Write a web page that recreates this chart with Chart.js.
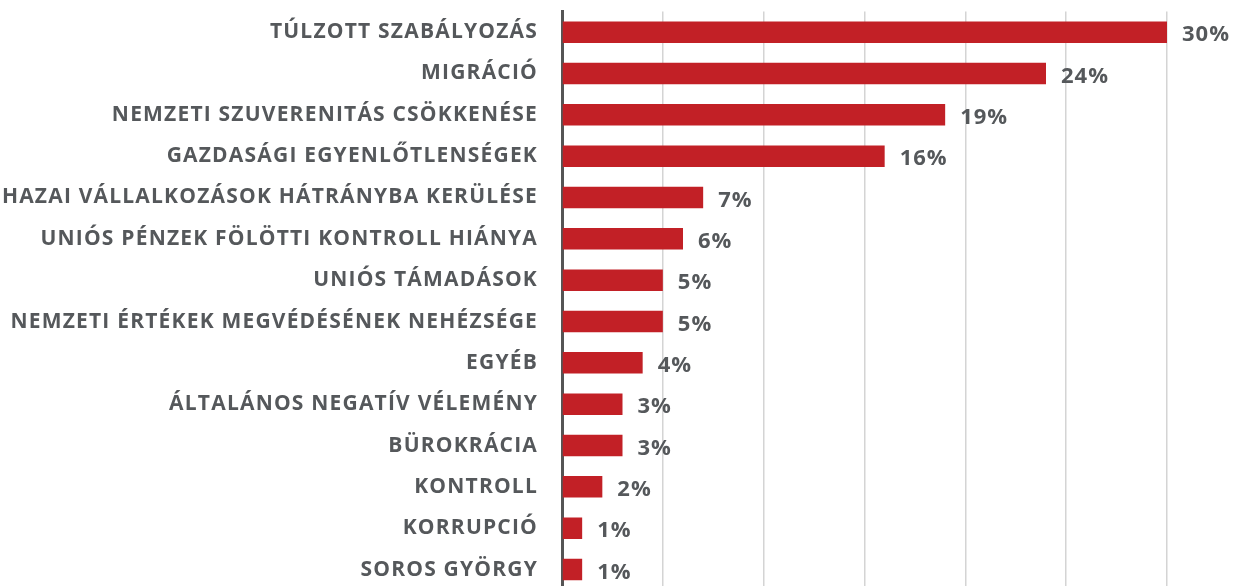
<!DOCTYPE html>
<html>
<head>
<meta charset="utf-8">
<script src="https://cdn.jsdelivr.net/npm/chart.js@4"></script>
<style>
  html, body { margin: 0; padding: 0; background: #fff; overflow: hidden; }
</style>
</head>
<body>
<canvas id="myChart" width="1256" height="600"></canvas>
<script>
const labels = [
    'TÚLZOTT SZABÁLYOZÁS',
    'MIGRÁCIÓ',
    'NEMZETI SZUVERENITÁS CSÖKKENÉSE',
    'GAZDASÁGI EGYENLŐTLENSÉGEK',
    'HAZAI VÁLLALKOZÁSOK HÁTRÁNYBA KERÜLÉSE',
    'UNIÓS PÉNZEK FÖLÖTTI KONTROLL HIÁNYA',
    'UNIÓS TÁMADÁSOK',
    'NEMZETI ÉRTÉKEK MEGVÉDÉSÉNEK NEHÉZSÉGE',
    'EGYÉB',
    'ÁLTALÁNOS NEGATÍV VÉLEMÉNY',
    'BÜROKRÁCIA',
    'KONTROLL',
    'KORRUPCIÓ',
    'SOROS GYÖRGY'
];
const values = [30, 24, 19, 16, 7, 6, 5, 5, 4, 3, 3, 2, 1, 1];

const textColor = '#55585b';
const fontFamily = '"Open Sans", Roboto, sans-serif';

// a little tracking so the labels come out as wide as in the original
const spacing = {
    id: 'spacing',
    beforeDraw(chart) { chart.ctx.letterSpacing = '1.2px'; },
    afterDraw(chart) { chart.ctx.letterSpacing = '0px'; }
};

const valueLabels = {
    id: 'valueLabels',
    afterDatasetsDraw(chart) {
        const ctx = chart.ctx;
        const meta = chart.getDatasetMeta(0);
        ctx.save();
        ctx.letterSpacing = '1px';
        ctx.font = 'bold 22px ' + fontFamily;
        ctx.fillStyle = textColor;
        ctx.textAlign = 'left';
        ctx.textBaseline = 'middle';
        meta.data.forEach((bar, i) => {
            ctx.fillText(values[i] + '%', bar.x + 15, bar.y + 3);
        });
        ctx.restore();
    }
};

const ctx = document.getElementById('myChart');

const config = {
    type: 'bar',
    data: {
        labels: labels,
        datasets: [{
            data: values,
            backgroundColor: '#c22026',
            barPercentage: 0.52,
            categoryPercentage: 1
        }]
    },
    options: {
        indexAxis: 'y',
        responsive: false,
        animation: false,
        layout: {
            padding: {top: 11.5, right: 89, bottom: 9.8, left: 0}
        },
        plugins: {
            legend: {display: false},
            tooltip: {enabled: false}
        },
        scales: {
            x: {
                min: 0,
                max: 30,
                ticks: {display: false, stepSize: 5},
                grid: {color: '#d4d4d4', lineWidth: 1.5, drawTicks: false},
                border: {display: false},
                afterFit(scale) {
                    scale.height = 0;
                    scale.paddingLeft = 0;
                    scale.paddingRight = 0;
                }
            },
            y: {
                grid: {display: false, drawTicks: false},
                border: {color: '#555', width: 3},
                ticks: {
                    color: textColor,
                    padding: 24,
                    font: {family: fontFamily, size: 21, weight: 'bold'}
                },
                afterFit(scale) {
                    scale.width = 562;
                    scale.paddingTop = 0;
                    scale.paddingBottom = 0;
                }
            }
        }
    },
    plugins: [spacing, valueLabels]
};

const myChart = new Chart(ctx, config);
</script>
</body>
</html>
